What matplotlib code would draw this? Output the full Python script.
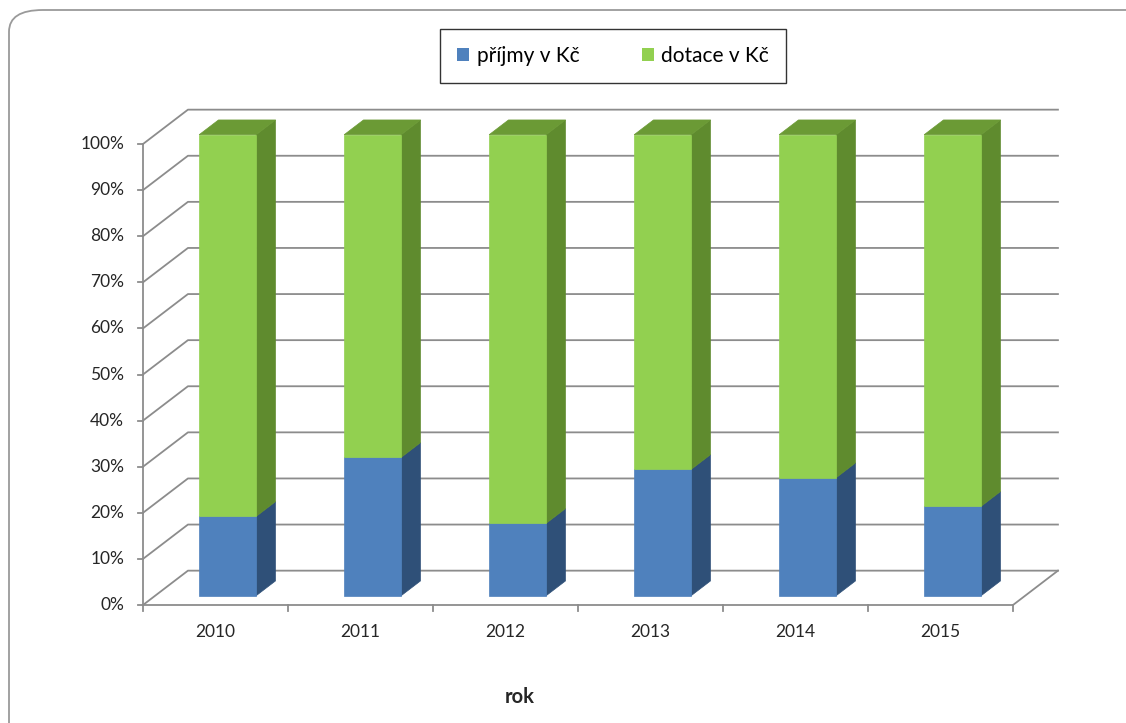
import matplotlib.pyplot as plt
from matplotlib.patches import Polygon, Patch, FancyBboxPatch

plt.rcParams["font.family"] = ["Lato", "DejaVu Sans"]

years = ["2010", "2011", "2012", "2013", "2014", "2015"]
prijmy = [17.2, 30.0, 15.7, 27.4, 25.6, 19.4]
dotace = [100 - p for p in prijmy]
series_names = ["příjmy v Kč", "dotace v Kč"]
y_ticks = list(range(0, 101, 10))

# oblique projection of the depth axis (z in 0..1)
DX, DY = 0.31, 7.45


def proj(x, y, z):
    return (x + z * DX, y + z * DY)


fig = plt.figure(figsize=(11.26, 7.23), dpi=100)
ax = fig.add_axes([0, 0, 1, 1])
ax.set_xlim(-143 / 145, (1126 - 143) / 145)
ax.set_ylim(-118 / 4.61, 100 + 144 / 4.61)
ax.axis("off")

# outer rounded frame, running off the right and bottom edges
frame = FancyBboxPatch((9 / 1126, -40 / 723), 1200 / 1126, 753 / 723,
                       boxstyle="round,pad=0,rounding_size=0.03",
                       transform=fig.transFigure, fill=False,
                       edgecolor="#9a9a9a", lw=1.3, zorder=0)
fig.patches.append(frame)

grid_c = "#8c8c8c"
txt_c = "#262626"
n = len(years)

# back wall gridlines + left wall diagonals
for v in y_ticks:
    a = proj(0, v, 0)
    b = proj(0, v, 1)
    c = proj(n, v, 1)
    ax.plot([a[0], b[0], c[0]], [a[1], b[1], c[1]], color=grid_c, lw=1.3, zorder=1)
    ax.plot([-0.035, 0], [v, v], color=grid_c, lw=1.3, zorder=1)
    ax.text(-0.13, v, f"{v}%", ha="right", va="center", fontsize=12.5, color=txt_c)

# floor edges and front axes
ax.plot([0, 0], [0, 100], color=grid_c, lw=1.3, zorder=1)
ax.plot([0, n], [0, 0], color=grid_c, lw=1.3, zorder=1)
fr = proj(n, 0, 1)
ax.plot([n, fr[0]], [0, fr[1]], color=grid_c, lw=1.3, zorder=1)
for i in range(n + 1):
    ax.plot([i, i], [0, -1.3], color=grid_c, lw=1.3, zorder=1)
for i, yr in enumerate(years):
    ax.text(i + 0.5, -5.9, yr, ha="center", va="center", fontsize=12.5, color=txt_c)

ax.text(2.6, -19.9, "rok", ha="center", va="center", fontsize=14.5,
        fontweight="bold", color=txt_c)

# 3D stacked columns
W = 0.393
Z0, Z1 = 0.27, 0.70
colors = [("#4f81bd", "#2f5078", "#3b6494"), ("#92d050", "#5f8b2e", "#6b9a35")]
for i in range(n):
    x0, x1 = i + 0.5 - W / 2, i + 0.5 + W / 2
    base = 0
    for vals, (front, side, top) in zip([prijmy, dotace], colors):
        y0, y1 = base, base + vals[i]
        face = [proj(x0, y0, Z0), proj(x1, y0, Z0), proj(x1, y1, Z0), proj(x0, y1, Z0)]
        right = [proj(x1, y0, Z0), proj(x1, y0, Z1), proj(x1, y1, Z1), proj(x1, y1, Z0)]
        ax.add_patch(Polygon(right, closed=True, facecolor=side, edgecolor=side, lw=0.5, zorder=3))
        ax.add_patch(Polygon(face, closed=True, facecolor=front, edgecolor=front, lw=0.5, zorder=4))
        base = y1
    lid = [proj(x0, base, Z0), proj(x1, base, Z0), proj(x1, base, Z1), proj(x0, base, Z1)]
    ax.add_patch(Polygon(lid, closed=True, facecolor=colors[1][2], edgecolor=colors[1][2],
                         lw=0.5, zorder=4))

handles = [Patch(facecolor=colors[0][0]), Patch(facecolor=colors[1][0])]
leg = fig.legend(handles, series_names, loc="center", bbox_to_anchor=(613 / 1126, 1 - 56 / 723),
                 ncol=2, fontsize=15, frameon=True, fancybox=False, edgecolor="black",
                 handlelength=0.6, handleheight=0.6, handletextpad=0.35,
                 columnspacing=3.0, borderpad=0.8, borderaxespad=0)
leg.get_frame().set_linewidth(1.0)

fig.savefig("out.png", dpi=100)
